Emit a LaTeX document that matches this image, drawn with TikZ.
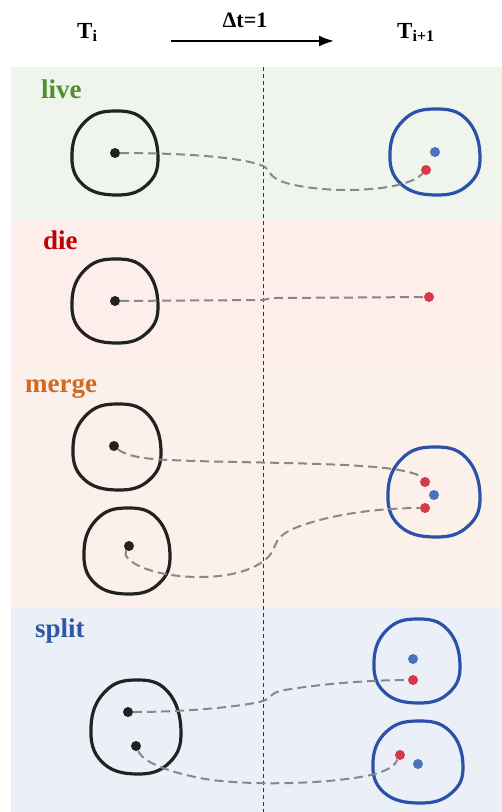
\documentclass[tikz,border=0pt]{standalone}
\usepackage{fontspec}
\setmainfont{Liberation Serif}
\usetikzlibrary{arrows.meta}
\definecolor{bglive}{HTML}{EFF5EC}
\definecolor{bgdie}{HTML}{FDEEEC}
\definecolor{bgmerge}{HTML}{FBF0EA}
\definecolor{bgsplit}{HTML}{EBF0F8}
\definecolor{cgreen}{HTML}{4F8F30}
\definecolor{cred}{HTML}{C00000}
\definecolor{corange}{HTML}{D06A20}
\definecolor{cblue}{HTML}{2F57A5}
\definecolor{blobblue}{HTML}{2A52A8}
\definecolor{dotblue}{HTML}{4A72C0}
\definecolor{dotred}{HTML}{D63A4A}
\definecolor{dotblack}{HTML}{222222}
\definecolor{conngray}{HTML}{888888}
\newcommand\myblob[5]{%
  \draw[#5, line width=3.2pt] plot[smooth cycle, tension=0.75] coordinates {
    ({#1+#3},{#2+0.08*#4}) ({#1+0.74*#3},{#2+0.76*#4}) ({#1+0.02*#3},{#2+#4})
    ({#1-0.76*#3},{#2+0.74*#4}) ({#1-#3},{#2}) ({#1-0.7*#3},{#2-0.74*#4})
    ({#1-0.02*#3},{#2-#4}) ({#1+0.7*#3},{#2-0.76*#4})};}
\begin{document}
\begin{tikzpicture}[x=1pt,y=-1pt,
  lbl/.style={font=\bfseries\fontsize{27}{27}\selectfont, anchor=base west, inner sep=0},
  hdr/.style={font=\bfseries\fontsize{23}{23}\selectfont, anchor=base west, inner sep=0},
  bdot/.style={circle, fill=dotblack, inner sep=0, minimum size=10pt},
  rdot/.style={circle, fill=dotred, inner sep=0, minimum size=10pt},
  udot/.style={circle, fill=dotblue, inner sep=0, minimum size=10pt},
  conn/.style={draw=conngray, line width=2pt, dash pattern=on 9pt off 5pt}]
\useasboundingbox (0,0) rectangle (502,812);
% backgrounds
\fill[bglive] (11,67) rectangle (502,220);
\fill[bgdie] (11,220) rectangle (502,362);
\fill[bgmerge] (11,362) rectangle (502,607);
\fill[bgsplit] (11,607) rectangle (502,812);
% header
\node[hdr] (ti) at (77,38) {T\textsubscript{i}};
\node[hdr] (ti1) at (397,38) {T\textsubscript{i+1}};
\coordinate (a0) at (171,41);
\coordinate (a1) at (334,41);
\draw[line width=1.8pt, -{Latex[length=15pt,width=11pt]}] (a0) -- (a1);
\node[font=\bfseries\fontsize{22}{22}\selectfont, anchor=base, inner sep=0] (dt) at (245,27) {Δt=1};
% divider
\coordinate (v0) at (263,67);
\coordinate (v1) at (263,812);
\draw[black!80, line width=0.9pt, dash pattern=on 4pt off 3pt] (v0) -- (v1);
% labels
\node[lbl, text=cgreen] (llive) at (41,98) {live};
\node[lbl, text=cred] (ldie) at (43,249) {die};
\node[lbl, text=corange] (lmerge) at (25,392) {merge};
\node[lbl, text=cblue] (lsplit) at (35,637) {split};
% blobs
\myblob{115}{153}{43}{42}{dotblack}
\myblob{435}{152}{45}{43}{blobblue}
\myblob{115}{301}{43}{42}{dotblack}
\myblob{117}{447}{44}{43}{dotblack}
\myblob{127}{551}{43}{43}{dotblack}
\myblob{434}{492}{46}{45}{blobblue}
\myblob{136}{727}{45}{47}{dotblack}
\myblob{417}{661}{43}{42}{blobblue}
\myblob{418}{762}{45}{41}{blobblue}
% dots
\node[bdot] (l1) at (115,153) {};
\node[udot] (l2) at (435,152) {};
\node[rdot] (l3) at (426,170) {};
\node[bdot] (d1) at (115,301) {};
\node[rdot] (d2) at (429,297) {};
\node[bdot] (m1) at (114,446) {};
\node[bdot] (m2) at (129,546) {};
\node[rdot] (m3) at (425,482) {};
\node[udot] (m4) at (434,495) {};
\node[rdot] (m5) at (425,508) {};
\node[bdot] (s1) at (128,712) {};
\node[bdot] (s2) at (136,746) {};
\node[udot] (s3) at (413,659) {};
\node[rdot] (s4) at (413,680) {};
\node[rdot] (s5) at (400,755) {};
\node[udot] (s6) at (418,764) {};
% connectors
\draw[conn] (l1) .. controls (190,153) and (245,158) .. (263,166)
  .. controls (272,170) and (266,178) .. (290,184)
  .. controls (330,194) and (405,192) .. (l3);
\draw[conn] (d1) -- (263,300) .. controls (268,299) and (270,298) .. (275,298) -- (d2);
\draw[conn] (m1) .. controls (125,455) and (140,459) .. (170,460)
  .. controls (230,463) and (330,462) .. (385,468)
  .. controls (410,471) and (420,475) .. (m3);
\draw[conn] (m2) .. controls (120,560) and (150,577) .. (200,577)
  .. controls (240,577) and (262,565) .. (270,555)
  .. controls (278,545) and (272,538) .. (295,528)
  .. controls (330,514) and (380,508) .. (m5);
\draw[conn] (s1) .. controls (190,712) and (245,706) .. (263,701)
  .. controls (272,698) and (270,692) .. (285,690)
  .. controls (320,684) and (370,680) .. (s4);
\draw[conn] (s2) .. controls (142,760) and (160,770) .. (200,778)
  .. controls (240,786) and (330,785) .. (375,774)
  .. controls (395,768) and (396,762) .. (s5);
\end{tikzpicture}
\end{document}
